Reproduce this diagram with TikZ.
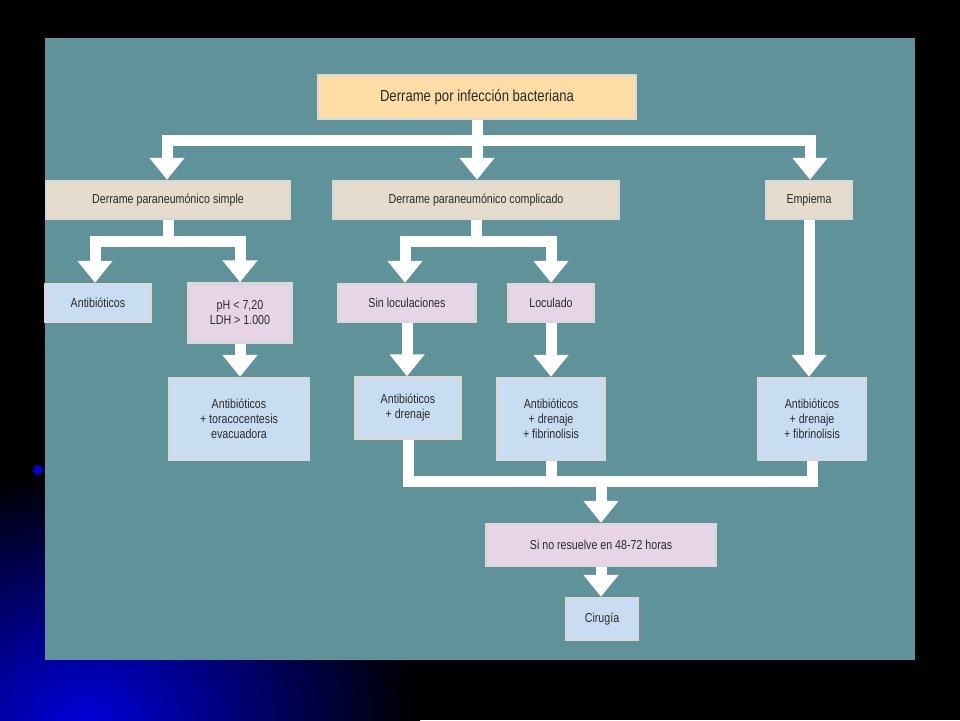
\documentclass[tikz,border=0pt]{standalone}
\usepackage{fontspec}
\setmainfont[FakeStretch=0.82]{Liberation Sans}
\usetikzlibrary{arrows.meta}
\definecolor{teal1}{HTML}{5F9299}
\definecolor{orangeb}{HTML}{FCDDA6}
\definecolor{tanb}{HTML}{E6DCCD}
\definecolor{pinkb}{HTML}{E7D5E7}
\definecolor{blueb}{HTML}{C8DDF1}
\definecolor{bord}{HTML}{D8D8D8}
\definecolor{txt}{HTML}{2A2A2A}
\tikzset{
 bx/.style={draw=bord,line width=2.5pt,inner sep=0pt,align=center,text=txt,font=\fontsize{13}{15}\selectfont},
 ar/.style={draw=white,line width=11pt,-{Triangle[length=22pt 0 0,width=34pt 0 0]}},
 ln/.style={draw=white,line width=11pt}
}
\begin{document}
\begin{tikzpicture}[x=1pt,y=-1pt]
\useasboundingbox (0,0) rectangle (960,720);
\fill[black] (0,0) rectangle (960,720);
\shade[inner color=blue!85!black, outer color=black] (-250,470) rectangle (420,970);
\fill[blue!80!black] (38,470) circle (5);
\fill[teal1] (45,38) rectangle (915,660);
% nodes
\node[bx,fill=orangeb,minimum width=318pt,minimum height=44pt,font=\fontsize{16}{18}\selectfont] (top) at (477,97) {Derrame por infección bacteriana};
\node[bx,fill=tanb,minimum width=244pt,minimum height=38pt] (simp) at (168,200) {Derrame paraneumónico simple};
\node[bx,fill=tanb,minimum width=285pt,minimum height=38pt] (comp) at (476,200) {Derrame paraneumónico complicado};
\node[bx,fill=tanb,minimum width=86pt,minimum height=38pt] (emp) at (809,200) {Empiema};
\node[bx,fill=blueb,minimum width=105pt,minimum height=38pt] (ab1) at (98,303) {Antibióticos};
\node[bx,fill=pinkb,minimum width=104pt,minimum height=59pt] (ph) at (240,313) {pH < 7,20\\LDH > 1.000};
\node[bx,fill=pinkb,minimum width=137pt,minimum height=38pt] (sin) at (407,303) {Sin loculaciones};
\node[bx,fill=pinkb,minimum width=85pt,minimum height=38pt] (loc) at (551,303) {Loculado};
\node[bx,fill=blueb,minimum width=140pt,minimum height=82pt] (ab2) at (239,419) {Antibióticos\\+ toracocentesis\\evacuadora};
\node[bx,fill=blueb,minimum width=105pt,minimum height=61pt] (ab3) at (408,408) {Antibióticos\\+ drenaje};
\node[bx,fill=blueb,minimum width=107pt,minimum height=82pt] (ab4) at (551,419) {Antibióticos\\+ drenaje\\+ fibrinolisis};
\node[bx,fill=blueb,minimum width=108pt,minimum height=82pt] (ab5) at (812,419) {Antibióticos\\+ drenaje\\+ fibrinolisis};
\node[bx,fill=pinkb,minimum width=229pt,minimum height=42pt] (sino) at (601,545) {Si no resuelve en 48-72 horas};
\node[bx,fill=blueb,minimum width=72pt,minimum height=42pt] (cir) at (602,619) {Cirugía};
% connectors
\coordinate (t1) at (167,140); \coordinate (t3) at (810,140);
\draw[ln] (top.south) -- (top.south|-t1);
\draw[ln] ([xshift=-5.5pt]t1) -- ([xshift=5.5pt]t3);
\draw[ar] (t1) -- (t1|-simp.north);
\draw[ar] (top.south|-t1) -- (comp.north-|top.south);
\draw[ar] (t3) -- (t3|-emp.north);
\coordinate (s1) at (95,241); \coordinate (s2) at (240,241);
\draw[ln] (simp.south) -- (simp.south|-s1);
\draw[ln] ([xshift=-5.5pt]s1) -- ([xshift=5.5pt]s2);
\draw[ar] (s1) -- (s1|-ab1.north);
\draw[ar] (s2) -- (s2|-ph.north);
\coordinate (c1) at (405,241); \coordinate (c2) at (551,241);
\draw[ln] (comp.south) -- (comp.south|-c1);
\draw[ln] ([xshift=-5.5pt]c1) -- ([xshift=5.5pt]c2);
\draw[ar] (c1) -- (c1|-sin.north);
\draw[ar] (c2) -- (c2|-loc.north);
\draw[ar] (ph.south) -- (ab2.north-|ph.south);
\draw[ar] (sin.south) -- (ab3.north-|sin.south);
\draw[ar] (loc.south) -- (ab4.north-|loc.south);
\draw[ar] (emp.south) -- (ab5.north-|emp.south);
\coordinate (b1) at (408,481); \coordinate (b2) at (812,481); \coordinate (bm) at (601,481);
\draw[ln] (ab3.south) -- ([yshift=5.5pt]ab3.south|-b1);
\draw[ln] (ab4.south) -- (ab4.south|-b1);
\draw[ln] (ab5.south) -- ([yshift=5.5pt]ab5.south|-b1);
\draw[ln] ([xshift=-5.5pt]b1) -- ([xshift=5.5pt]b2);
\draw[ar] (bm) -- (bm|-sino.north);
\draw[ar] (sino.south) -- (cir.north-|sino.south);
\end{tikzpicture}
\end{document}
